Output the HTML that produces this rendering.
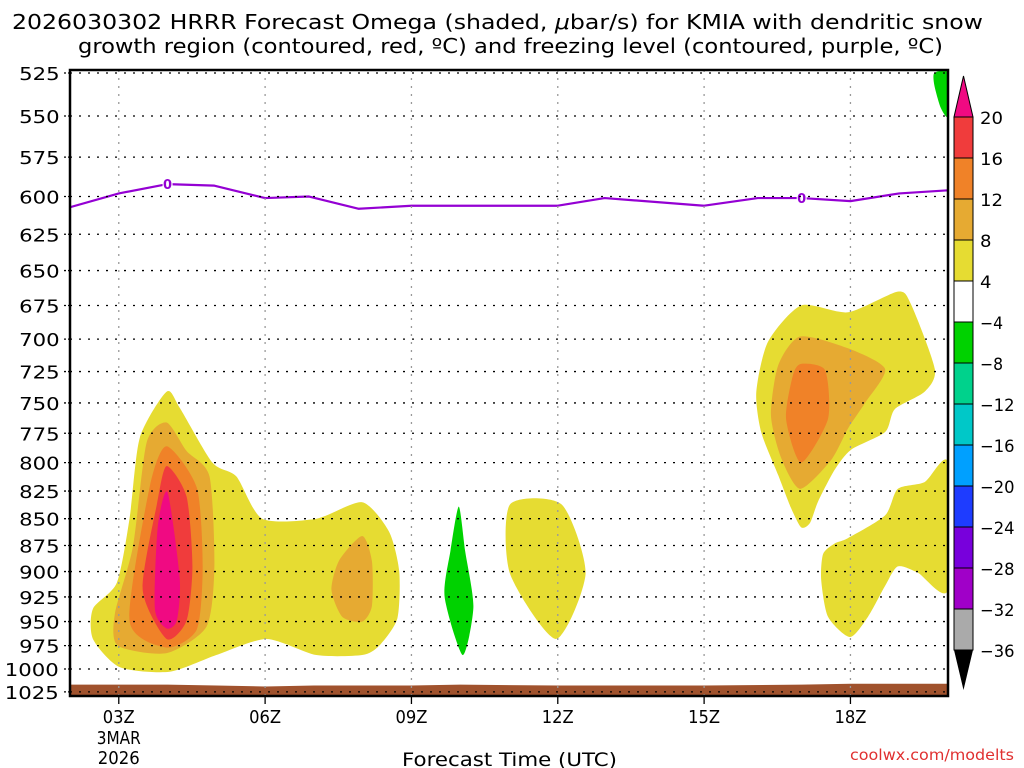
<!DOCTYPE html>
<html><head><meta charset="utf-8"><style>
body{margin:0;background:#fff;}
svg{display:block;font-family:"DejaVu Sans","Liberation Sans",sans-serif;}
</style></head><body>
<svg id="c" width="1024" height="768" viewBox="0 0 1024 768">
<text x="12" y="29" font-size="20" textLength="971" lengthAdjust="spacingAndGlyphs">2026030302 HRRR Forecast Omega (shaded, <tspan font-style="italic">μ</tspan>bar/s) for KMIA with dendritic snow</text>
<text x="78" y="53" font-size="20" textLength="865" lengthAdjust="spacingAndGlyphs">growth region (contoured, red, ºC) and freezing level (contoured, purple, ºC)</text>
<g id="plot"></g>
<text x="402" y="766" font-size="19" textLength="215" lengthAdjust="spacingAndGlyphs">Forecast Time (UTC)</text>
<text x="850" y="760" font-size="15" fill="#e03030" textLength="164" lengthAdjust="spacingAndGlyphs">coolwx.com/modelts</text>
</svg>
<script>
const levels=[525,550,575,600,625,650,675,700,725,750,775,800,825,850,875,900,925,950,975,1000,1025];
const timeTicks=[3,6,9,12,15,18];
const timeLabels=["03Z","06Z","09Z","12Z","15Z","18Z"];
const cbValues=[20,16,12,8,4,-4,-8,-12,-16,-20,-24,-28,-32,-36];
const cbColors=["#f03c3c","#f08228","#e6aa32","#e6dc32","#ffffff","#00d200","#00d28c","#00c8c8","#00a0ff","#1e3cff","#7800dc","#a000c8","#aaaaaa"];
const yellow4=[[3.98,741],[4.25,754],[4.92,800],[5.41,812],[5.94,850],[7.05,850],[7.99,835],[8.54,862],[8.75,900],[8.71,947],[8.34,975],[7.99,985],[7.05,985],[6.03,968],[5.0,985],[4.04,1003],[3.02,998],[2.47,968],[2.47,937],[2.96,911],[3.22,850],[3.43,779]];
const gold8=[[3.98,766],[4.39,790],[4.86,812],[4.96,895],[4.8,955],[3.98,983],[2.98,975],[2.92,942],[3.29,876],[3.57,783]];
const orange12=[[3.98,786],[4.6,822],[4.72,895],[4.6,958],[3.98,977],[3.22,949],[3.63,822]];
const red16=[[3.98,803],[4.39,830],[4.51,895],[4.39,949],[3.98,968],[3.49,918],[3.78,837]];
const pink20=[[4.0,826],[4.25,907],[4.19,949],[3.98,957],[3.74,937],[3.8,857]];
const gold8b=[[7.99,866],[8.19,890],[8.19,934],[7.99,950],[7.58,945],[7.36,918],[7.52,889]];
const green10=[[9.97,839],[10.1,880],[10.27,935],[10.05,985],[9.68,925],[9.8,880]];
const yellow12=[[11.02,837],[12.08,837],[12.57,902],[11.96,968],[11.02,902]];
const yellowR=[[16.99,675],[17.95,680],[18.97,665],[19.24,674],[19.73,723],[19.52,741],[18.91,755],[18.71,774],[18.01,789],[17.68,806],[17.34,834],[17.17,854],[16.99,858],[16.78,840],[16.52,811],[16.17,774],[16.07,741],[16.31,702]];
const goldR=[[16.97,698],[17.95,707],[18.71,723],[18.3,750],[17.95,771],[17.6,798],[16.97,823],[16.58,796],[16.37,760],[16.52,720]];
const orangeR=[[16.99,719],[17.48,724],[17.54,763],[16.99,800],[16.68,763],[16.82,728]];
const yellowLR=[[17.68,873],[17.95,868],[18.71,847],[18.97,823],[19.52,817],[20.0,800],[20.0,918],[19.38,901],[18.97,895],[18.71,914],[18.36,945],[17.99,966],[17.54,945],[17.4,908],[17.44,883]];
const greenTop=[[19.72,525],[20.0,525],[20.0,550],[19.85,545],[19.72,532]];
const frzHours=[2,3,4,4.96,6,6.9,7.92,9,10.8,12,12.96,15,16.1,17,18,19,20];
const frzPres=[607,598,592,593,601,600,608,606,606,606,601,606,601,601,603,598,596];
const sfcHours=[2,3,4,5,6,7,9,10,12,15,17,18,20];
const sfcPres=[1017,1017,1017,1018,1019,1018,1018,1017,1018,1018,1017,1016,1016];

const X0=70,X1=948,Y0=70,Y1=696;
const x=h=>X0+(h-2)*(X1-X0)/18;
const y=p=>73+Math.log(p/525)*925;
const NS="http://www.w3.org/2000/svg";
const svg=document.getElementById('c');
function mk(tag,attrs,parent){const e=document.createElementNS(NS,tag);for(const k in attrs)e.setAttribute(k,attrs[k]);(parent||svg).appendChild(e);return e;}
const plot=document.getElementById('plot');
const defs=mk('defs',{});
const cp=mk('clipPath',{id:'clip'},defs);mk('rect',{x:X0,y:Y0,width:X1-X0,height:Y1-Y0},cp);
const g=mk('g',{'clip-path':'url(#clip)'},plot);
function smoothPath(arr){
  const pts=arr.map(d=>[x(d[0]),y(d[1])]);const n=pts.length;let s='M'+pts[0][0]+','+pts[0][1];
  for(let i=0;i<n;i++){const p0=pts[(i-1+n)%n],p1=pts[i],p2=pts[(i+1)%n],p3=pts[(i+2)%n];const t=0.12;
    s+=` C${p1[0]+(p2[0]-p0[0])*t},${p1[1]+(p2[1]-p0[1])*t} ${p2[0]-(p3[0]-p1[0])*t},${p2[1]-(p3[1]-p1[1])*t} ${p2[0]},${p2[1]}`;}
  return s+'Z';
}
function poly(arr,fill,name){
  const e=mk('path',{d:smoothPath(arr),fill:fill},g);
  
  
}
poly(yellow4,"#e6dc32","omega-4-left");
poly(gold8,"#e6aa32","omega-8-left");
poly(orange12,"#f08228","omega-12-left");
poly(red16,"#f03c3c","omega-16-left");
poly(pink20,"#f00a82","omega-20-left");
poly(gold8b,"#e6aa32","omega-8-08z");
poly(green10,"#00d200","omega-neg4-10z");
poly(yellow12,"#e6dc32","omega-4-12z");
poly(yellowR,"#e6dc32","omega-4-right");
poly(goldR,"#e6aa32","omega-8-right");
poly(orangeR,"#f08228","omega-12-right");
poly(yellowLR,"#e6dc32","omega-4-lower-right");
poly(greenTop,"#00d200","omega-neg4-top");
let gp=sfcHours.map((h,i)=>x(h)+','+y(sfcPres[i])).join(' ')+' '+x(20)+','+Y1+' '+x(2)+','+Y1;
const gr=mk('polygon',{points:gp,fill:'#a0522d'},g);


levels.forEach(p=>{
  const l=mk('line',{x1:X0,x2:X1,y1:y(p),y2:y(p),stroke:'#000','stroke-width':1.3,'stroke-dasharray':'2 7'},plot);
  
  
  const s=String(p);
  const t=mk('text',{x:62-s.length*14.3,y:y(p)+7,'font-size':18,textLength:s.length*13.5,lengthAdjust:'spacingAndGlyphs'},plot);t.textContent=s;
  
  
  mk('line',{x1:64,x2:X0,y1:y(p),y2:y(p),stroke:'#000','stroke-width':1.3,'stroke-dasharray':'2 2'},plot);
});
timeTicks.forEach((h,i)=>{
  const l=mk('line',{x1:x(h),x2:x(h),y1:Y0,y2:Y1,stroke:'#999','stroke-width':1.3,'stroke-dasharray':'2 6'},plot);
  
  
  mk('line',{x1:x(h),x2:x(h),y1:Y1,y2:Y1+8,stroke:'#000','stroke-width':1.3},plot);
  const t=mk('text',{x:x(h)-16,y:Y1+27,'font-size':18,textLength:32,lengthAdjust:'spacingAndGlyphs'},plot);t.textContent=timeLabels[i];
  
  
});
[["3MAR",744,44],["2026",764,42]].forEach(d=>{const t=mk('text',{x:x(3)-d[2]/2,y:d[1],'font-size':18,textLength:d[2],lengthAdjust:'spacingAndGlyphs'},plot);t.textContent=d[0];
  
  });
const fl=mk('path',{d:'M'+frzHours.map((h,i)=>x(h)+','+y(frzPres[i])).join(' L'),fill:'none',stroke:'#9400d3','stroke-width':2.2,'stroke-linejoin':'round'},g);


[4,17].forEach(h=>{
  const i=frzHours.indexOf(h);
  mk('rect',{x:x(h)-5,y:y(frzPres[i])-8,width:10,height:14,fill:'#fff'},g);
  const t=mk('text',{x:x(h),y:y(frzPres[i])+5,'font-size':13,'font-weight':'bold',fill:'#9400d3','text-anchor':'middle'},g);t.textContent='0';
  
  
});
const bd=mk('rect',{x:X0,y:Y0,width:X1-X0,height:Y1-Y0,fill:'none',stroke:'#000','stroke-width':2.5},plot);


const cb=mk('g',{},svg);


const CX0=954,CX1=973,CY0=117,CST=(650-117)/13;
mk('polygon',{points:`${CX0},${CY0} ${CX1},${CY0} ${(CX0+CX1)/2},76`,fill:'#f00a82',stroke:'#000'},cb);
cbColors.forEach((c,i)=>{mk('rect',{x:CX0,y:CY0+i*CST,width:CX1-CX0,height:CST,fill:c,stroke:'#000','stroke-width':1},cb);});
mk('polygon',{points:`${CX0},${CY0+13*CST} ${CX1},${CY0+13*CST} ${(CX0+CX1)/2},690`,fill:'#000'},cb);
cbValues.forEach((v,i)=>{const s=v<0?'\u2212'+(-v):String(v);const t=mk('text',{x:980,y:CY0+i*CST+7,'font-size':17,textLength:s.length*11.5,lengthAdjust:'spacingAndGlyphs'},cb);t.textContent=s;
  
  });
</script>
</body></html>
